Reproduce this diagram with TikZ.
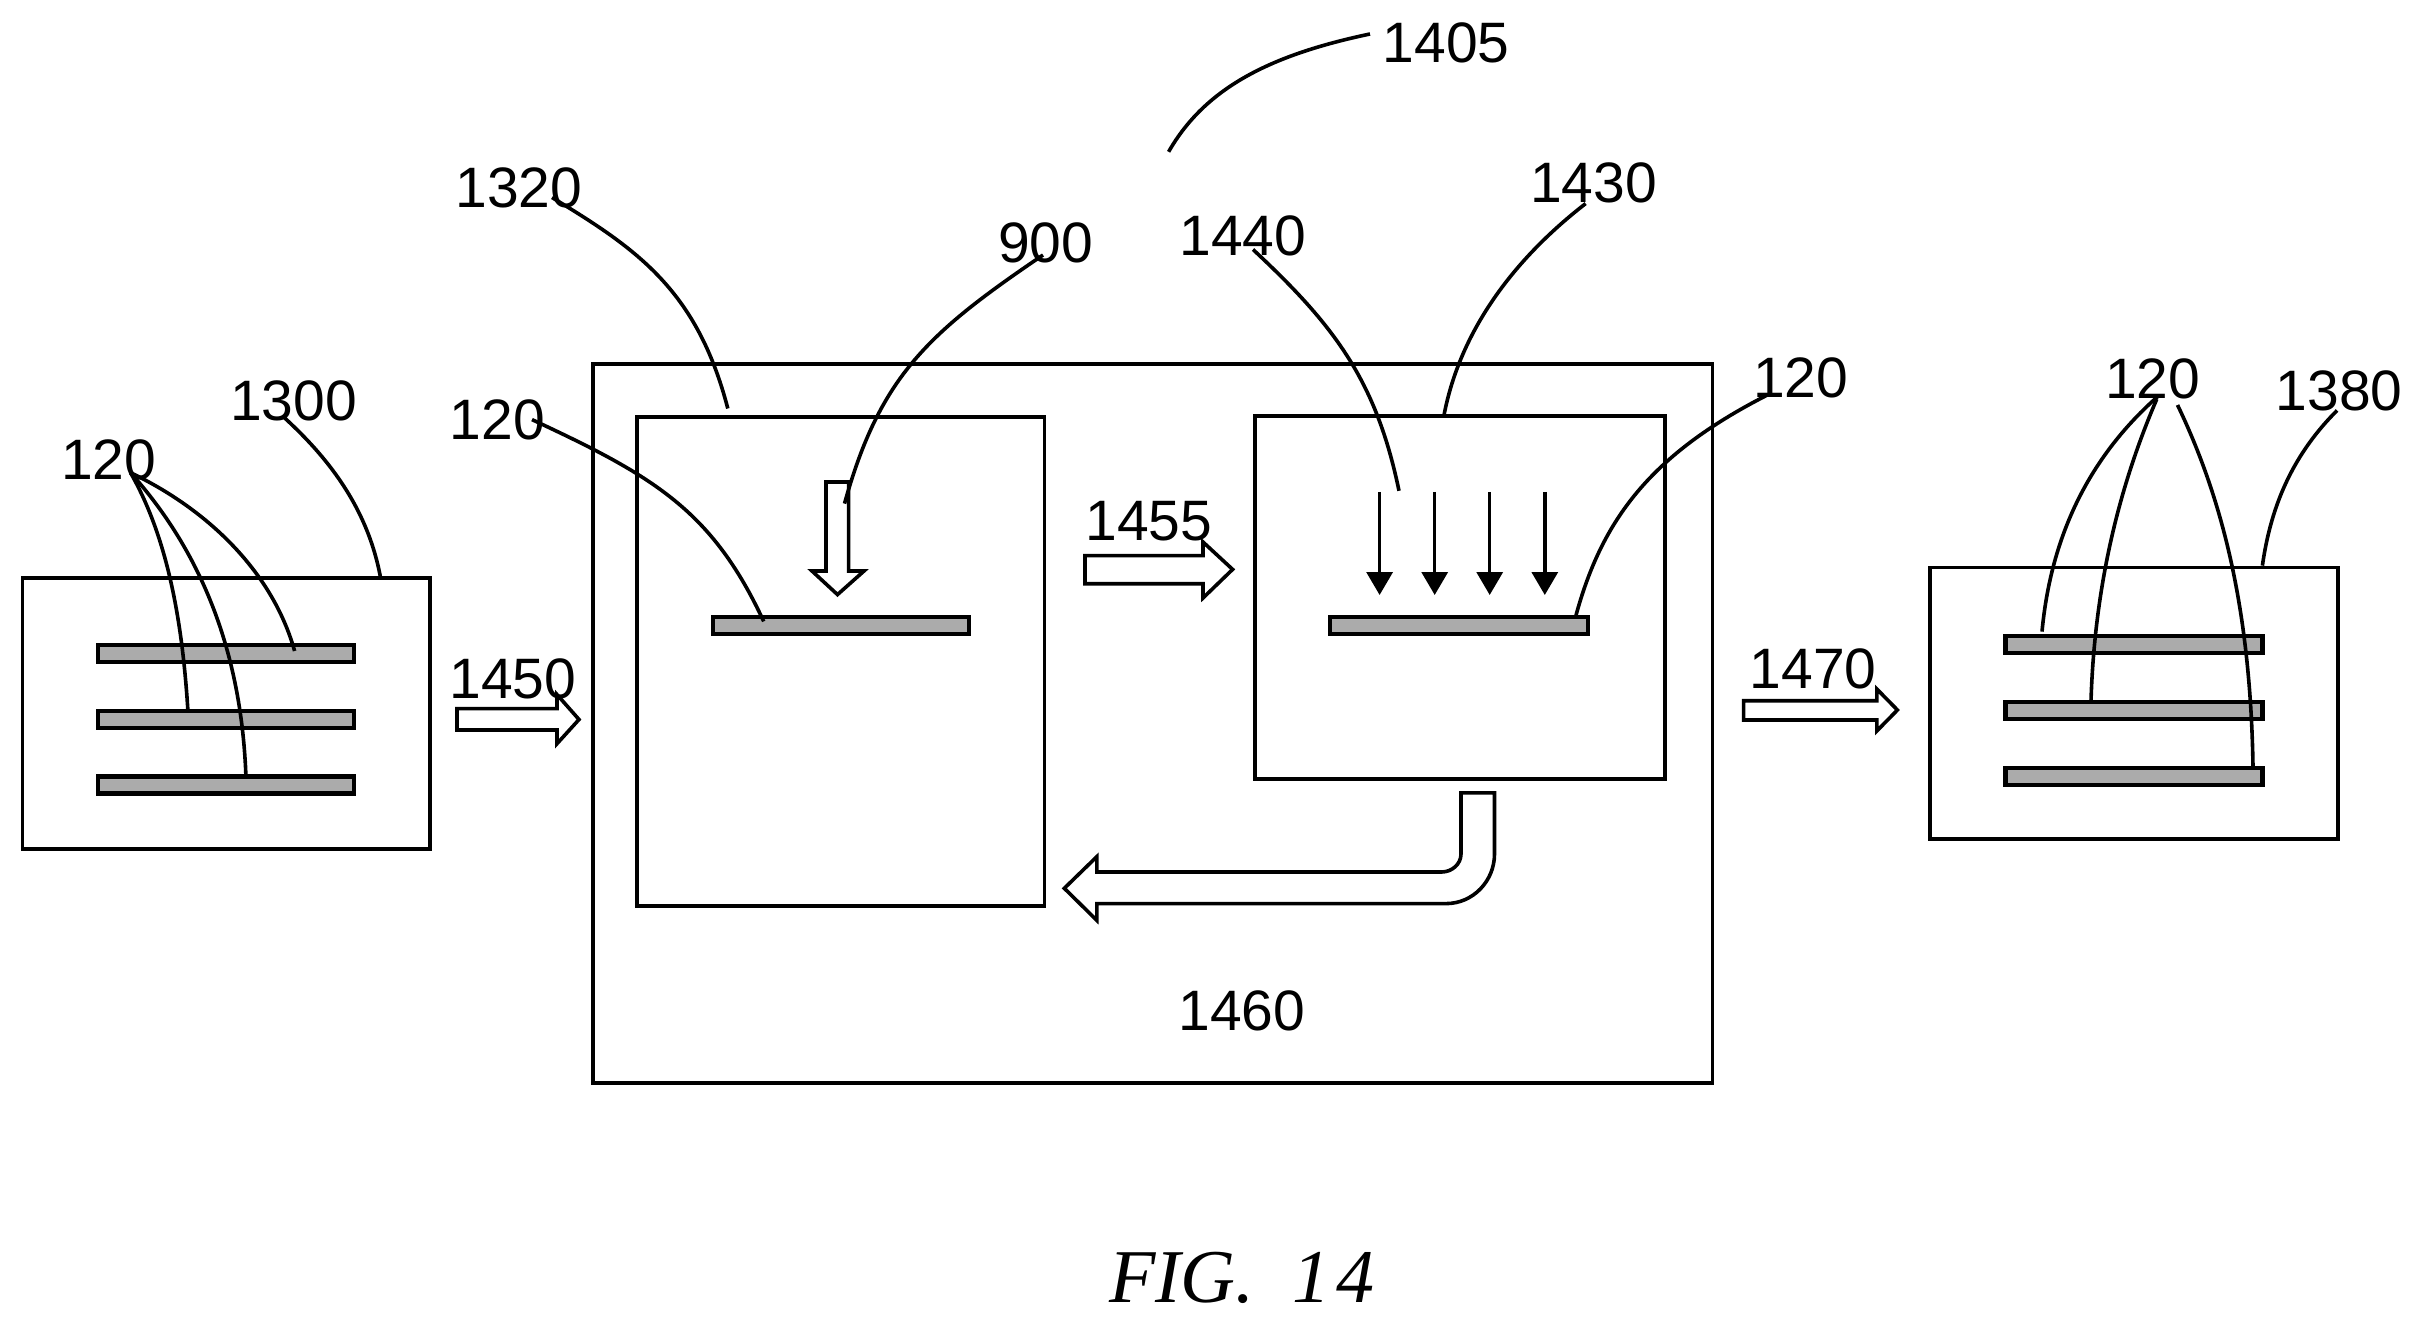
\documentclass[tikz,border=0pt]{standalone}
\usepackage{fontspec}
\usetikzlibrary{arrows.meta}
\setmainfont{Liberation Sans}
\newfontfamily\figfont{Liberation Serif}
\newcommand{\rbox}[6]{\node[#1,minimum width={(#5-#3)*0.5pt},minimum height={(#6-#4)*0.5pt},anchor=north west] (#2) at (#3,#4) {};}
\tikzset{
  x=0.5pt,y=-0.5pt,
  box/.style={draw=black,line width=1.9pt,inner sep=0pt,outer sep=0pt,fill=none},
  bar/.style={draw=black,line width=2.2pt,inner sep=0pt,outer sep=0pt,fill=black!33},
  lbl/.style={font=\fontsize{28.5pt}{30pt}\selectfont,inner sep=0pt,text=black},
  lead/.style={draw=black,line width=1.8pt},
  blockarrow/.style={draw=black,line width=1.8pt,fill=none,line join=miter},
  beam/.style={draw=black,line width=1.7pt,-{Triangle[length=11.5pt,width=13pt]}}
}
\begin{document}
\begin{tikzpicture}
\useasboundingbox (0,0) rectangle (2420,1326);
% boxes
\rbox{box}{b1300}{22.5}{578}{430}{849}
\rbox{box}{b1405}{593}{364.3}{1712.5}{1083}
\rbox{box}{b1320}{637}{417}{1044.5}{906}
\rbox{box}{b1430}{1255}{416.3}{1665}{778.6}
\rbox{box}{b1380}{1929.6}{567.4}{2338}{838.6}
% wafers
\rbox{bar}{w1}{98}{645}{354}{662}
\rbox{bar}{w2}{98}{711}{354}{728}
\rbox{bar}{w3}{98}{776.5}{354}{793.5}
\rbox{bar}{w4}{713}{617}{969}{634}
\rbox{bar}{w5}{1330}{617}{1588}{634}
\rbox{bar}{w6}{2005.3}{636}{2262.4}{653}
\rbox{bar}{w7}{2005.3}{702}{2262.4}{719}
\rbox{bar}{w8}{2005.3}{768}{2262.4}{785}
% labels
\node[lbl] (l1405) at (1446,43) {1405};
\node[lbl] (l1320) at (519,188) {1320};
\node[lbl] (l900) at (1045.7,242.6) {900};
\node[lbl] (l1440) at (1242.7,236) {1440};
\node[lbl] (l1430) at (1593.4,183) {1430};
\node[lbl] (l120a) at (108.7,460) {120};
\node[lbl] (l1300) at (293.5,401) {1300};
\node[lbl] (l120b) at (497.5,420) {120};
\node[lbl] (l1450) at (513,679) {1450};
\node[lbl] (l1455) at (1149,521) {1455};
\node[lbl] (l120c) at (1800.6,378) {120};
\node[lbl] (l120d) at (2152.7,379) {120};
\node[lbl] (l1380) at (2339,391) {1380};
\node[lbl] (l1470) at (1813,669) {1470};
\node[lbl] (l1460) at (1242,1010.7) {1460};
\node[inner sep=0pt,font=\figfont\itshape\fontsize{38pt}{40pt}\selectfont] (fig) at (1242,1278) {FIG.\ \ 1\kern3pt 4};
% free ends of the leader lines
\coordinate (s1405) at (1168.6,151.8); \coordinate (e1405) at (1370,34);
\coordinate (s1300) at (284.7,418); \coordinate (e1300) at (380.4,577);
\coordinate (sA) at (130.5,472.7);
\coordinate (eA1) at (294.6,651); \coordinate (eA2) at (187.8,709); \coordinate (eA3) at (246,778);
\coordinate (s120b) at (532,419.6); \coordinate (e120b) at (763.7,621.4);
\coordinate (s1320) at (552,197.5); \coordinate (e1320) at (727.8,408.5);
\coordinate (s900) at (1043,255); \coordinate (e900) at (844.5,503.6);
\coordinate (s1440) at (1253,249.5); \coordinate (e1440) at (1399,490.8);
\coordinate (s1430) at (1585.6,203.6); \coordinate (e1430) at (1443.8,416.3);
\coordinate (s120c) at (1766.6,395.4); \coordinate (e120c) at (1576,615.3);
\coordinate (sRA) at (2159,395.4); \coordinate (eRA) at (2042,631.6);
\coordinate (sRB) at (2156.8,399); \coordinate (eRB) at (2091,700.7);
\coordinate (sRC) at (2177.5,405); \coordinate (eRC) at (2253,767.4);
\coordinate (s1380) at (2337,410.5); \coordinate (e1380) at (2262.4,565.6);
% leader lines
\draw[lead] (s1405) .. controls (1205,88) and (1270,55) .. (e1405);
\draw[lead] (s1300) .. controls (325,455) and (367,505) .. (e1300);
\draw[lead] (sA) .. controls (205,508) and (272,570) .. (eA1);
\draw[lead] (sA) .. controls (164,531.3) and (181.5,609) .. (eA2);
\draw[lead] (sA) .. controls (203.3,553.9) and (241.8,655.5) .. (eA3);
\draw[lead] (s120b) .. controls (653,476) and (712,510) .. (e120b);
\draw[lead] (s1320) .. controls (637,249) and (697,290) .. (e1320);
\draw[lead] (s900) .. controls (928,333) and (880,376) .. (e900);
\draw[lead] (s1440) .. controls (1334,325) and (1376,380) .. (e1440);
\draw[lead] (s1430) .. controls (1500,270) and (1457,345) .. (e1430);
\draw[lead] (s120c) .. controls (1650,455) and (1602,520) .. (e120c);
\draw[lead] (sRA) .. controls (2089.8,456) and (2051,535) .. (eRA);
\draw[lead] (sRB) .. controls (2116.3,493) and (2094.3,593.4) .. (eRB);
\draw[lead] (sRC) .. controls (2225,504) and (2250.7,617) .. (eRC);
\draw[lead] (s1380) .. controls (2296,451.5) and (2271.5,500.7) .. (e1380);
% four thin arrows
\coordinate (t1) at (1379.6,491.8); \coordinate (h1) at (1379.6,595);
\coordinate (t2) at (1434.7,491.8); \coordinate (h2) at (1434.7,595);
\coordinate (t3) at (1489.7,491.8); \coordinate (h3) at (1489.7,595);
\coordinate (t4) at (1544.8,491.8); \coordinate (h4) at (1544.8,595);
\draw[beam] (t1) -- (h1);
\draw[beam] (t2) -- (h2);
\draw[beam] (t3) -- (h3);
\draw[beam] (t4) -- (h4);
% block arrows
\draw[blockarrow] (457,708.6) -- (557,708.6) -- (557,694.6) -- (579,719.5) -- (557,743.7) -- (557,730) -- (457,730) -- cycle;
\draw[blockarrow] (1085,555.6) -- (1203,555.6) -- (1203,542) -- (1232.6,569.4) -- (1203,598) -- (1203,583.7) -- (1085,583.7) -- cycle;
\draw[blockarrow] (1743.6,700.7) -- (1876.8,700.7) -- (1876.8,689) -- (1897.4,710) -- (1876.8,731) -- (1876.8,720) -- (1743.6,720) -- cycle;
\draw[blockarrow] (826,482) -- (848.6,482) -- (848.6,571) -- (864,571) -- (837.5,594.6) -- (812,571) -- (826,571) -- cycle;
\draw[blockarrow] (1461,792.9) -- (1494.5,792.9) -- (1494.5,854) .. controls (1494.5,881) and (1473,903.6) .. (1446,903.6) -- (1096.9,903.6) -- (1096.9,920.4) -- (1064.3,888.3) -- (1096.9,856.6) -- (1096.9,872) -- (1441.6,872) .. controls (1452,872) and (1461,864) .. (1461,854) -- cycle;
\end{tikzpicture}
\end{document}
